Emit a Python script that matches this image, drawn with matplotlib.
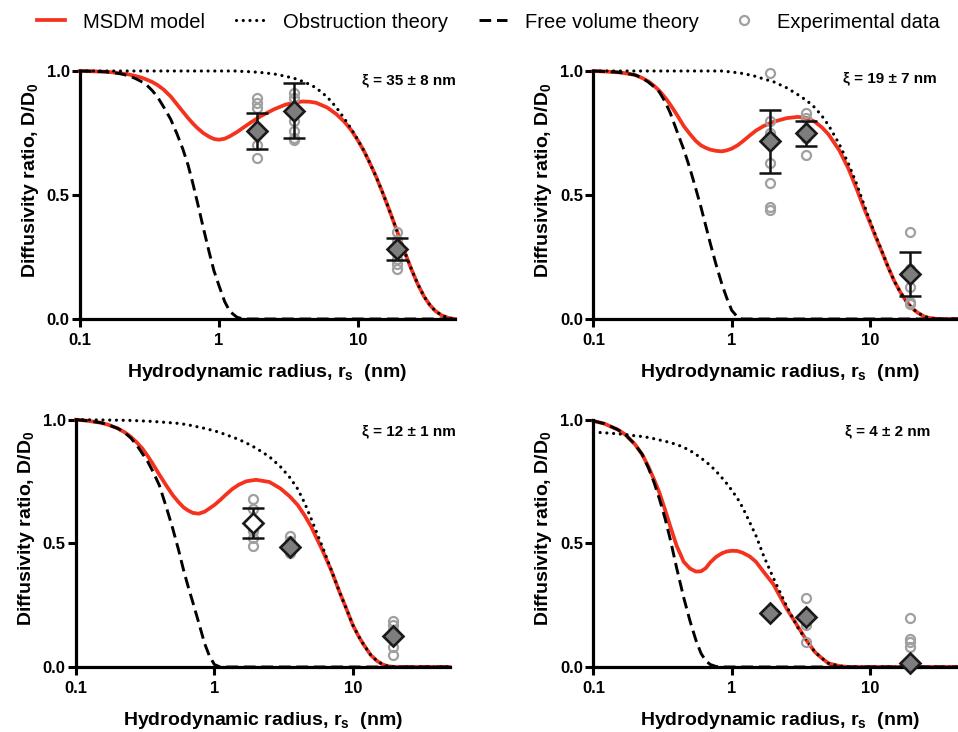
import matplotlib
matplotlib.use('Agg')
import matplotlib.pyplot as plt
from matplotlib.lines import Line2D
from matplotlib.ticker import NullLocator

plt.rcParams['font.family'] = 'Liberation Sans'
plt.rcParams['mathtext.fontset'] = 'custom'
plt.rcParams['mathtext.rm'] = 'Liberation Sans'
plt.rcParams['mathtext.bf'] = 'Liberation Sans:bold'
plt.rcParams['mathtext.it'] = 'Liberation Sans:italic'

r_grid = [0.1, 0.12, 0.15, 0.17, 0.2, 0.225, 0.25, 0.275, 0.3,
          0.33, 0.36, 0.4, 0.45, 0.5, 0.55, 0.6, 0.65, 0.7,
          0.77, 0.85, 0.92, 1.0, 1.1, 1.2, 1.35, 1.5, 1.7, 2.0,
          2.5, 3.0, 3.5, 4.0, 4.5, 5.0, 6.0, 7.0, 8.0, 9.0,
          10, 11, 12, 13.5, 15, 16.5, 18, 20, 22,
          24.5, 27, 30, 33, 36, 40, 45, 50]

# panel a, xi = 35 nm
msdm_a = [1.0, 0.999, 0.997, 0.995, 0.99, 0.986, 0.98, 0.974, 0.966,
          0.956, 0.944, 0.925, 0.897, 0.865, 0.836, 0.81, 0.788, 0.77,
          0.75, 0.735, 0.726, 0.723, 0.727, 0.737, 0.754, 0.772, 0.793, 0.818,
          0.846, 0.864, 0.873, 0.877, 0.876, 0.872, 0.853, 0.826, 0.795, 0.76,
          0.72, 0.68, 0.637, 0.575, 0.512, 0.452, 0.395, 0.325, 0.262,
          0.195, 0.14, 0.09, 0.056, 0.033, 0.015, 0.004, 0.0]
obst_a = [1.0, 1.0, 1.0, 1.0, 1.0, 1.0, 1.0, 1.0, 1.0,
          1.0, 1.0, 1.0, 1.0, 1.0, 1.0, 1.0, 1.0, 1.0,
          1.0, 1.0, 1.0, 1.0, 1.0, 1.0, 1.0, 0.998, 0.997, 0.994,
          0.988, 0.979, 0.97, 0.958, 0.946, 0.932, 0.896, 0.853, 0.808, 0.765,
          0.722, 0.68, 0.637, 0.575, 0.512, 0.452, 0.395, 0.325, 0.262,
          0.195, 0.14, 0.09, 0.056, 0.033, 0.015, 0.004, 0.0]
free_a = [1.0, 0.999, 0.997, 0.994, 0.988, 0.98, 0.97, 0.958, 0.945,
          0.922, 0.897, 0.855, 0.805, 0.745, 0.685, 0.62, 0.545, 0.47,
          0.37, 0.27, 0.195, 0.135, 0.07, 0.03, 0.007, 0.0, 0.0, 0.0,
          0.0, 0.0, 0.0, 0.0, 0.0, 0.0, 0.0, 0.0, 0.0, 0.0,
          0.0, 0.0, 0.0, 0.0, 0.0, 0.0, 0.0, 0.0, 0.0,
          0.0, 0.0, 0.0, 0.0, 0.0, 0.0, 0.0, 0.0]

# panel b, xi = 19 nm
msdm_b = [1.0, 0.998, 0.995, 0.991, 0.984, 0.972, 0.958, 0.94, 0.92,
          0.893, 0.864, 0.825, 0.778, 0.745, 0.718, 0.70, 0.69, 0.683,
          0.678, 0.676, 0.68, 0.687, 0.70, 0.716, 0.74, 0.76, 0.778, 0.795,
          0.81, 0.815, 0.81, 0.795, 0.772, 0.745, 0.68, 0.605, 0.525, 0.45,
          0.388, 0.33, 0.28, 0.21, 0.152, 0.11, 0.077, 0.045, 0.026,
          0.011, 0.004, 0.001, 0.0, 0.0, 0.0, 0.0, 0.0]
obst_b = [1.0, 1.0, 1.0, 1.0, 1.0, 1.0, 1.0, 1.0, 1.0,
          1.0, 1.0, 1.0, 1.0, 1.0, 1.0, 1.0, 1.0, 1.0,
          1.0, 1.0, 0.998, 0.996, 0.993, 0.99, 0.984, 0.978, 0.968, 0.957,
          0.932, 0.905, 0.88, 0.852, 0.818, 0.782, 0.705, 0.625, 0.545, 0.465,
          0.395, 0.335, 0.283, 0.21, 0.152, 0.11, 0.077, 0.045, 0.026,
          0.011, 0.004, 0.001, 0.0, 0.0, 0.0, 0.0, 0.0]
free_b = [1.0, 0.998, 0.995, 0.991, 0.984, 0.972, 0.955, 0.936, 0.915,
          0.876, 0.83, 0.76, 0.684, 0.605, 0.525, 0.45, 0.375, 0.305,
          0.22, 0.14, 0.085, 0.035, 0.008, 0.0, 0.0, 0.0, 0.0, 0.0,
          0.0, 0.0, 0.0, 0.0, 0.0, 0.0, 0.0, 0.0, 0.0, 0.0,
          0.0, 0.0, 0.0, 0.0, 0.0, 0.0, 0.0, 0.0, 0.0,
          0.0, 0.0, 0.0, 0.0, 0.0, 0.0, 0.0, 0.0]

# panel c, xi = 12 nm
msdm_c = [1.0, 0.996, 0.988, 0.98, 0.965, 0.949, 0.93, 0.908, 0.885,
          0.853, 0.82, 0.778, 0.733, 0.695, 0.667, 0.645, 0.632, 0.623,
          0.62, 0.628, 0.641, 0.655, 0.675, 0.695, 0.72, 0.737, 0.751, 0.757,
          0.748, 0.722, 0.69, 0.655, 0.612, 0.568, 0.475, 0.39, 0.305, 0.235,
          0.17, 0.125, 0.09, 0.048, 0.024, 0.01, 0.003, 0.0, 0.0,
          0.0, 0.0, 0.0, 0.0, 0.0, 0.0, 0.0, 0.0]
obst_c = [1.0, 0.9995, 0.999, 0.9985, 0.998, 0.9975, 0.997, 0.996, 0.995,
          0.994, 0.993, 0.991, 0.989, 0.987, 0.985, 0.982, 0.979, 0.975,
          0.97, 0.965, 0.96, 0.955, 0.948, 0.94, 0.93, 0.92, 0.906, 0.885,
          0.85, 0.81, 0.767, 0.72, 0.662, 0.6, 0.49, 0.392, 0.305, 0.235,
          0.17, 0.125, 0.09, 0.048, 0.024, 0.01, 0.003, 0.0, 0.0,
          0.0, 0.0, 0.0, 0.0, 0.0, 0.0, 0.0, 0.0]
free_c = [1.0, 0.996, 0.988, 0.98, 0.965, 0.948, 0.925, 0.897, 0.865,
          0.83, 0.79, 0.735, 0.645, 0.56, 0.475, 0.39, 0.32, 0.26,
          0.18, 0.095, 0.045, 0.01, 0.0, 0.0, 0.0, 0.0, 0.0, 0.0,
          0.0, 0.0, 0.0, 0.0, 0.0, 0.0, 0.0, 0.0, 0.0, 0.0,
          0.0, 0.0, 0.0, 0.0, 0.0, 0.0, 0.0, 0.0, 0.0,
          0.0, 0.0, 0.0, 0.0, 0.0, 0.0, 0.0, 0.0]

# panel d, xi = 4 nm
msdm_d = [0.995, 0.984, 0.96, 0.94, 0.9, 0.86, 0.81, 0.757, 0.705,
          0.635, 0.568, 0.49, 0.425, 0.398, 0.386, 0.387, 0.4, 0.423,
          0.445, 0.46, 0.467, 0.47, 0.469, 0.462, 0.447, 0.425, 0.385, 0.335,
          0.235, 0.165, 0.105, 0.06, 0.035, 0.015, 0.004, 0.0, 0.0, 0.0,
          0.0, 0.0, 0.0, 0.0, 0.0, 0.0, 0.0, 0.0, 0.0,
          0.0, 0.0, 0.0, 0.0, 0.0, 0.0, 0.0, 0.0]
obst_d = [0.95, 0.947, 0.943, 0.94, 0.935, 0.932, 0.928, 0.923, 0.918,
          0.913, 0.907, 0.9, 0.888, 0.875, 0.86, 0.845, 0.83, 0.815,
          0.792, 0.765, 0.742, 0.715, 0.682, 0.645, 0.585, 0.53, 0.45, 0.36,
          0.245, 0.16, 0.105, 0.06, 0.035, 0.015, 0.004, 0.0, 0.0, 0.0,
          0.0, 0.0, 0.0, 0.0, 0.0, 0.0, 0.0, 0.0, 0.0,
          0.0, 0.0, 0.0, 0.0, 0.0, 0.0, 0.0, 0.0]
free_d = [0.995, 0.984, 0.96, 0.94, 0.9, 0.86, 0.805, 0.745, 0.68,
          0.6, 0.515, 0.4, 0.28, 0.185, 0.11, 0.055, 0.025, 0.01,
          0.002, 0.0, 0.0, 0.0, 0.0, 0.0, 0.0, 0.0, 0.0, 0.0,
          0.0, 0.0, 0.0, 0.0, 0.0, 0.0, 0.0, 0.0, 0.0, 0.0,
          0.0, 0.0, 0.0, 0.0, 0.0, 0.0, 0.0, 0.0, 0.0,
          0.0, 0.0, 0.0, 0.0, 0.0, 0.0, 0.0, 0.0]

# experimental data: probe radii, means, SD (0 = bar hidden by the marker) and individual measurements
probe_r_a = [1.87, 3.47, 19.2]
mean_a = [0.757, 0.839, 0.282]
sd_a = [0.073, 0.111, 0.044]
pts_a = [[0.89, 0.87, 0.85, 0.74, 0.70, 0.65], [0.91, 0.89, 0.80, 0.76, 0.73, 0.72],
         [0.35, 0.32, 0.28, 0.24, 0.22, 0.20]]

probe_r_b = [1.9, 3.47, 19.4]
mean_b = [0.716, 0.748, 0.182]
sd_b = [0.127, 0.052, 0.088]
pts_b = [[0.99, 0.80, 0.75, 0.72, 0.63, 0.55, 0.45, 0.44], [0.83, 0.81, 0.76, 0.73, 0.66],
         [0.35, 0.20, 0.13, 0.07, 0.06]]

probe_r_c = [1.89, 3.5, 19.5]
mean_c = [0.582, 0.484, 0.124]
sd_c = [0.062, 0.0, 0.0]
pts_c = [[0.68, 0.64, 0.55, 0.52, 0.49], [0.53, 0.51, 0.47, 0.46],
         [0.185, 0.17, 0.15, 0.12, 0.08, 0.05]]

probe_r_d = [1.88, 3.47, 19.4]
mean_d = [0.22, 0.203, 0.018]
sd_d = [0.0, 0.0, 0.0]
pts_d = [[0.23, 0.21], [0.28, 0.22, 0.17, 0.10], [0.20, 0.115, 0.10, 0.08, 0.01]]

xi_labels = ['\u03be = 35 \u00b1 8 nm', '\u03be = 19 \u00b1 7 nm', '\u03be = 12 \u00b1 1 nm', '\u03be = 4 \u00b1 2 nm']

RED = '#f5321e'
W, H = 958, 732

fig = plt.figure(figsize=(W / 100, H / 100), dpi=100)

# axes boxes in pixels: left, y of D/D0 = 0, width, height
boxes = [(80, 319, 375, 248), (593.4, 319, 373.3, 248), (76, 667, 373.5, 247.3), (593.4, 667, 373.3, 247.3)]
xi_pos = [(362, 80), (843, 78), (362, 431), (845, 431)]

panels = [(msdm_a, obst_a, free_a, probe_r_a, mean_a, sd_a, pts_a),
          (msdm_b, obst_b, free_b, probe_r_b, mean_b, sd_b, pts_b),
          (msdm_c, obst_c, free_c, probe_r_c, mean_c, sd_c, pts_c),
          (msdm_d, obst_d, free_d, probe_r_d, mean_d, sd_d, pts_d)]

for i, (msdm, obst, free, pr, mn, sd, pts) in enumerate(panels):
    l, y0, w, h = boxes[i]
    ax = fig.add_axes([l / W, (H - y0) / H, w / W, h / H])

    ax.plot(r_grid, msdm, color=RED, lw=2.7, zorder=2, clip_on=False, solid_joinstyle='round')
    ax.plot(r_grid, obst, color='black', lw=2.3, linestyle=(0, (0.01, 2.1)),
            dash_capstyle='round', zorder=3, clip_on=False)
    ax.plot(r_grid, free, color='black', lw=2.1, linestyle=(0, (4, 2)), zorder=3, clip_on=False)

    for x, ys in zip(pr, pts):
        ax.plot([x] * len(ys), ys, 'o', ms=6.5, mfc='none', mec='#a0a0a0', mew=1.6, zorder=4, clip_on=False)
    # error bars only where they show outside the marker
    ex = [x for x, s in zip(pr, sd) if s > 0]
    ey = [y for y, s in zip(mn, sd) if s > 0]
    es = [s for s in sd if s > 0]
    if ex:
        ax.errorbar(ex, ey, yerr=es, fmt='none', ecolor='#111111', elinewidth=1.8, capsize=8,
                    capthick=1.8, zorder=5)
    fills = ['#7d7d7d'] * 3
    if i == 2:
        fills[0] = 'white'
    for x, y, fc in zip(pr, mn, fills):
        ax.plot(x, y, 'D', ms=10.5, mfc=fc, mec='#1a1a1a', mew=1.9, zorder=6, clip_on=False)

    ax.set_xscale('log')
    ax.set_xlim(0.1, 50)
    ax.set_ylim(0, 1)
    ax.xaxis.set_minor_locator(NullLocator())
    ax.set_xticks([0.1, 1, 10])
    ax.set_xticklabels(['0.1', '1', '10'], fontsize=12, fontweight='bold')
    ax.set_yticks([0, 0.5, 1.0])
    ax.set_yticklabels(['0.0', '0.5', '1.0'], fontsize=12, fontweight='bold')
    ax.tick_params(axis='both', length=6, width=2.2, color='black')
    ax.tick_params(axis='x', pad=4)
    ax.tick_params(axis='y', pad=1.5)
    for s in ['top', 'right']:
        ax.spines[s].set_visible(False)
    for s in ['left', 'bottom']:
        ax.spines[s].set_linewidth(2.3)

    ax.set_xlabel(r'Hydrodynamic radius, $\mathbf{r}_\mathbf{s}$  (nm)', fontsize=14, fontweight='bold')
    ax.set_ylabel(r'Diffusivity ratio, D/D$_\mathbf{0}$', fontsize=14, fontweight='bold')
    ax.xaxis.set_label_coords(0.5, -0.175)
    ax.yaxis.set_label_coords(-0.105, 0.56)

    fig.text(xi_pos[i][0] / W, 1 - xi_pos[i][1] / H, xi_labels[i], fontsize=11, fontweight='bold',
             ha='left', va='center')

handles = [Line2D([], [], color=RED, lw=2.7),
           Line2D([], [], color='black', lw=2.3, linestyle=(0, (0.01, 2.1)), dash_capstyle='round'),
           Line2D([], [], color='black', lw=2.1, linestyle=(0, (4, 2))),
           Line2D([], [], linestyle='none', marker='o', ms=6.5, mfc='none', mec='#a0a0a0', mew=1.6)]
names = ['MSDM model', 'Obstruction theory', 'Free volume theory', 'Experimental data']
fig.legend(handles, names, loc='center', bbox_to_anchor=(488 / W, 1 - 22 / H), ncol=4, frameon=False,
           fontsize=14.5, handlelength=1.4, handletextpad=0.9, columnspacing=1.55)

fig.savefig('out.png', dpi=100)
